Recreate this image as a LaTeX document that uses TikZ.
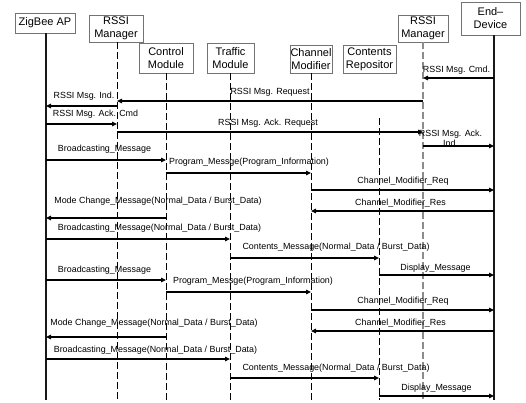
\documentclass[tikz,border=0pt]{standalone}
\usepackage{fontspec}
\setmainfont{Liberation Sans}
\usetikzlibrary{arrows.meta}
% one message: from lifeline, to lifeline, arrow y, label centre x, label centre y, text
\newcommand\msgline[6]{%
  \draw[msg] (#1 |- 0,#3) -- (#2 |- 0,#3);
  \node[msglabel] at (#4,#5) {#6};}
\begin{document}
\begin{tikzpicture}[x=1bp,y=-1bp,
  actor/.style={draw=black!55, line width=0.6bp, fill=white, inner sep=0pt,
    align=center, font=\fontsize{11bp}{13bp}\selectfont, text=black},
  solidlife/.style={line width=1.6bp, black!90},
  dashlife/.style={line width=0.8bp, dash pattern=on 7bp off 3bp},
  msg/.style={line width=1.2bp, black, -{Triangle[length=5bp,width=4.5bp]}},
  msglabel/.style={inner sep=0pt, font=\fontsize{8.9bp}{10bp}\selectfont,
    text=black, align=center}]

\useasboundingbox (0,0) rectangle (526,402);

% participants
\node[actor, minimum width=60bp, minimum height=20bp] (zbbox) at (45,23) {ZigBee AP};
\node[actor, minimum width=54bp, minimum height=27bp] (rlbox) at (116,28.5) {RSSI\\Manager};
\node[actor, minimum width=54bp, minimum height=30bp] (cmbox) at (166,58) {Control\\Module};
\node[actor, minimum width=47bp, minimum height=30bp] (tmbox) at (230.5,58) {Traffic\\Module};
\node[actor, minimum width=42bp, minimum height=28bp] (chbox) at (311,59) {Channel\\Modifier};
\node[actor, minimum width=53bp, minimum height=28bp] (crbox) at (369.5,59) {Contents\\Repositor};
\node[actor, minimum width=50bp, minimum height=27bp] (rrbox) at (423,28.5) {RSSI\\Manager};
\node[actor, minimum width=59bp, minimum height=33bp] (edbox) at (490.5,18.5) {End–\\Device};

% lifelines
\coordinate (zb) at (46,33);   \coordinate (zbend) at (46,400);
\coordinate (rl) at (117,42);  \coordinate (rlend) at (117,400);
\coordinate (cm) at (166,73);  \coordinate (cmend) at (166,400);
\coordinate (tm) at (230,73);  \coordinate (tmend) at (230,400);
\coordinate (ch) at (311,73);  \coordinate (chend) at (311,400);
\coordinate (cr) at (379,118); \coordinate (crend) at (379,400);
\coordinate (rr) at (423,42);  \coordinate (rrend) at (423,400);
\coordinate (ed) at (494,35);  \coordinate (edend) at (494,400);

\draw[solidlife] (zb) -- (zbend);
\draw[solidlife] (ed) -- (edend);
\draw[dashlife] (rl) -- (rlend);
\draw[dashlife] (cm) -- (cmend);
\draw[dashlife] (tm) -- (tmend);
\draw[dashlife] (ch) -- (chend);
\draw[dashlife] (cr) -- (crend);
\draw[dashlife, black!45, line width=1.1bp] (rr) -- (rrend);

% messages
\msgline{ed}{rr}{78}{456.5}{70}{RSSI Msg. Cmd.}
\msgline{rr}{rl}{101}{270}{92}{RSSI Msg. Request}
\msgline{rl}{zb}{106}{84}{96}{RSSI Msg. Ind.}
\msgline{zb}{rl}{124}{95.5}{114}{RSSI Msg. Ack. Cmd}
\msgline{rl}{rr}{132}{268}{123}{RSSI Msg. Ack. Request}
\msgline{rr}{ed}{146}{450.5}{138}{RSSI Msg. Ack.\\Ind.}
\msgline{zb}{cm}{160}{104.5}{149}{Broadcasting\_Message}
\msgline{cm}{ch}{173}{249}{162}{Program\_Messge(Program\_Information)}
\msgline{ch}{ed}{190}{403}{181}{Channel\_Modifier\_Req}
\msgline{ed}{ch}{211}{400.5}{203}{Channel\_Modifier\_Res}
\msgline{cm}{zb}{218}{158}{201}{Mode Change\_Message(Normal\_Data / Burst\_Data)}
\msgline{zb}{tm}{239}{159.5}{228}{Broadcasting\_Message(Normal\_Data / Burst\_Data)}
\msgline{tm}{cr}{258}{336}{247}{Contents\_Message(Normal\_Data / Burst\_Data)}
\msgline{cr}{ed}{275}{435.5}{268}{Display\_Message}
\msgline{zb}{cm}{280}{104.5}{270}{Broadcasting\_Message}
\msgline{cm}{ch}{292}{253}{281}{Program\_Messge(Program\_Information)}
\msgline{ch}{ed}{310}{403}{301}{Channel\_Modifier\_Req}
\msgline{ed}{ch}{331}{400.5}{323}{Channel\_Modifier\_Res}
\msgline{cm}{zb}{337}{154}{323}{Mode Change\_Message(Normal\_Data / Burst\_Data)}
\msgline{zb}{tm}{359}{155.5}{350}{Broadcasting\_Message(Normal\_Data / Burst\_Data)}
\msgline{tm}{cr}{378}{336}{368}{Contents\_Message(Normal\_Data / Burst\_Data)}
\msgline{cr}{ed}{396}{436.5}{388}{Display\_Message}
\end{tikzpicture}
\end{document}
